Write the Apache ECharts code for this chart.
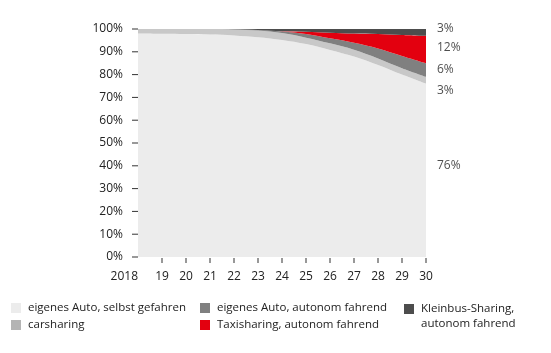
<!DOCTYPE html>
<html>
<head>
<meta charset="utf-8">
<script src="https://cdn.jsdelivr.net/npm/echarts@6/dist/echarts.min.js"></script>
<style>
	html, body { margin: 0; padding: 0; background: #fff; }
	#chart { width: 551px; height: 353px; }
</style>
</head>
<body>
<div id="chart"></div>
<script>
// data
const years = ['2018', '19', '20', '21', '22', '23', '24', '25', '26', '27', '28', '29', '30'];
const ownDriven   = [98.0, 97.9, 97.8, 97.6, 97.2, 96.4, 95.2, 93.4, 90.8, 87.9, 84.2, 80.0, 76];
const carsharing  = [2.0, 2.1, 2.2, 2.4, 2.6, 2.9, 3.0, 2.8, 2.9, 3.0, 2.9, 2.8, 3];
const ownAutonom  = [0, 0, 0, 0, 0.1, 0.3, 0.7, 1.6, 2.2, 3.1, 4.4, 5.4, 6];
const taxiSharing = [0, 0, 0, 0, 0, 0, 0.1, 1.0, 2.5, 4.0, 6.3, 9.2, 12];
const busSharing  = [0, 0, 0, 0, 0.1, 0.4, 1.0, 1.2, 1.6, 2.0, 2.2, 2.6, 3];
const endLabels = ['76%', '3%', '6%', '12%', '3%'];

//configurations
const
	FONT = '"Open Sans", "Noto Sans", sans-serif',
	TEXT_COLOR = '#222',
	TICK_COLOR = '#333',
	COLORS = ['#ececec', '#c8c8c8', '#808080', '#e3000f', '#4d4d4d'],
	LEGEND_COLORS = ['#ececec', '#b4b4b4', '#808080', '#e3000f', '#4d4d4d'],
	NAMES = ['eigenes Auto, selbst gefahren', 'carsharing', 'eigenes Auto, autonom fahrend',
		'Taxisharing, autonom fahrend', 'Kleinbus-Sharing,\nautonom fahrend'],
	// where the end labels sit on the value axis (layout only)
	END_LABEL_AT = [40, 73, 82, 92, 100];

const seriesValues = [ownDriven, carsharing, ownAutonom, taxiSharing, busSharing];

let chart = echarts.init(document.getElementById('chart'));

let areaSeries = seriesValues.map((values, i) => ({
	name: NAMES[i],
	type: 'line',
	stack: 'total',
	data: values,
	smooth: 0.35,
	symbol: 'none',
	lineStyle: { width: 1, opacity: 0 },
	itemStyle: { color: COLORS[i] },
	areaStyle: { color: COLORS[i], opacity: 1 },
	z: 2
}));

let labelSeries = {
	name: 'labels',
	type: 'scatter',
	symbolSize: 0,
	silent: true,
	z: 5,
	data: END_LABEL_AT.map((v, i) => ({ value: [years.length - 1, v], label: { formatter: endLabels[i] } })),
	label: {
		show: true, position: 'right', distance: 11,
		color: TEXT_COLOR, fontFamily: FONT, fontSize: 12
	}
};

function legendItem(i) {
	return { name: NAMES[i], itemStyle: { color: LEGEND_COLORS[i] } };
}

const LEGEND_BASE = {
	orient: 'vertical',
	padding: 0,
	itemWidth: 10, itemHeight: 10, itemGap: 2,
	icon: 'rect',
	selectedMode: false,
	textStyle: { color: TEXT_COLOR, fontFamily: FONT, fontSize: 11.5, lineHeight: 15, padding: [0, 0, 0, 2] }
};

// the built-in axis ticks brought a stray vertical axis line with them,
// so the short tick marks are drawn as part of the axis labels instead
chart.setOption({
	animation: false,
	grid: { left: 138, right: 125, top: 29, bottom: 96 },
	xAxis: {
		type: 'category',
		data: years,
		boundaryGap: false,
		axisLine: { show: false },
		axisTick: { show: false },
		axisLabel: {
			interval: 0, margin: 1,
			alignMinLabel: 'right',
			formatter: (value, index) => (index === 0 ? '{e|}' : '{t|}') + '\n{v|' + value + '}',
			rich: {
				t: { width: 1, height: 5, lineHeight: 5, backgroundColor: TICK_COLOR },
				e: { width: 1, height: 5, lineHeight: 5 },
				v: { color: TEXT_COLOR, fontFamily: FONT, fontSize: 12, lineHeight: 28 }
			}
		},
		splitLine: { show: false }
	},
	yAxis: {
		type: 'value',
		min: 0, max: 100, interval: 10,
		axisLine: { show: false },
		axisTick: { show: false },
		axisLabel: {
			margin: 0,
			formatter: value => '{v|' + value + '%}{g|}{t|}',
			rich: {
				v: { color: TEXT_COLOR, fontFamily: FONT, fontSize: 12 },
				g: { width: 9, height: 1 },
				t: { width: 6, height: 1, backgroundColor: TICK_COLOR }
			}
		},
		splitLine: { show: false }
	},
	legend: [
		Object.assign({}, LEGEND_BASE, { left: 11, top: 300.5, data: [legendItem(0), legendItem(1)] }),
		Object.assign({}, LEGEND_BASE, { left: 200, top: 300.5, data: [legendItem(2), legendItem(3)] }),
		Object.assign({}, LEGEND_BASE, {
			left: 404, top: 286.5, data: [legendItem(4)],
			// blank first line keeps the icon level with "Kleinbus-Sharing,"
			formatter: name => ' \n' + name
		})
	],
	series: areaSeries.concat([labelSeries])
});
</script>
</body>
</html>
